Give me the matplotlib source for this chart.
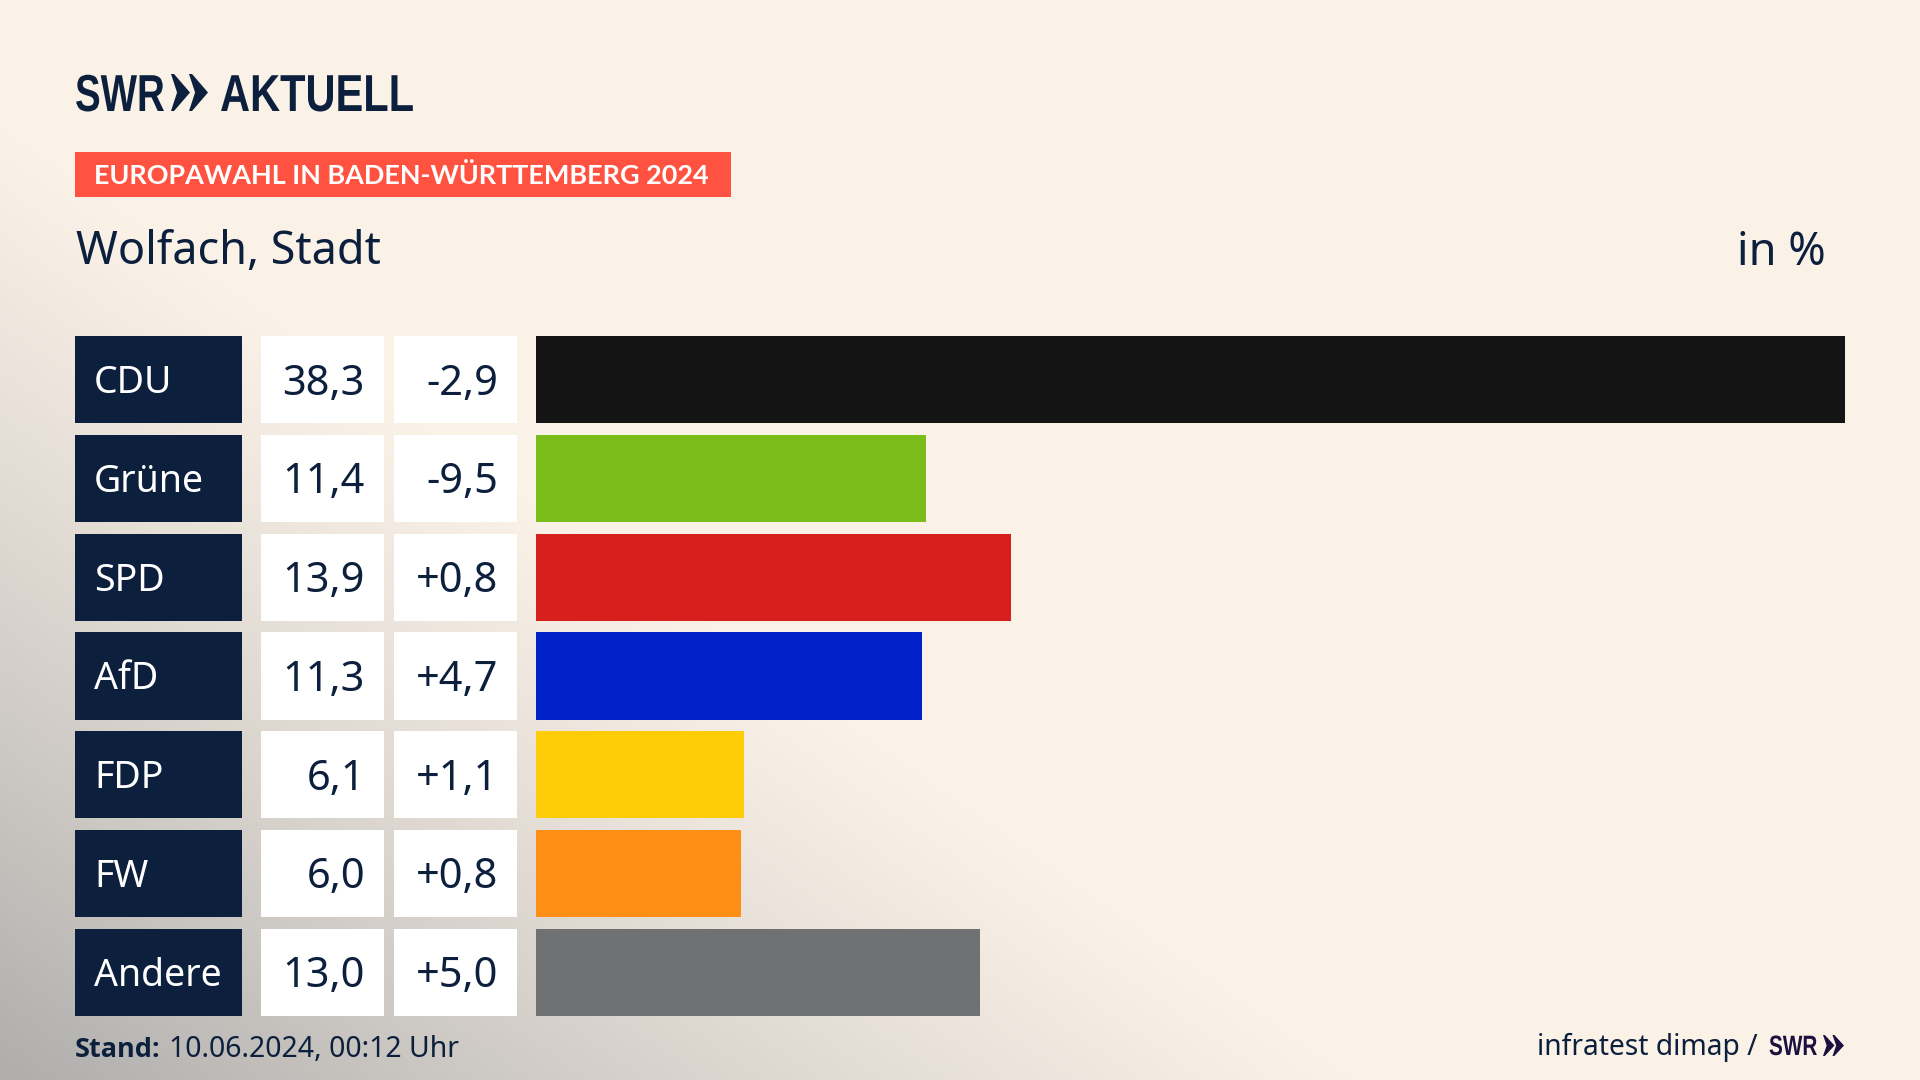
import numpy as np
import matplotlib
matplotlib.use("Agg")
import matplotlib.pyplot as plt
from matplotlib.patches import Polygon, Rectangle
from matplotlib.patheffects import AbstractPathEffect
from matplotlib.transforms import Affine2D

parties = ["CDU", "Grüne", "SPD", "AfD", "FDP", "FW", "Andere"]
shares = [38.3, 11.4, 13.9, 11.3, 6.1, 6.0, 13.0]
changes = [-2.9, -9.5, 0.8, 4.7, 1.1, 0.8, 5.0]
colors = ["#141414", "#7ABD1A", "#D7201E", "#0022C8", "#FFCD08", "#FF8E16", "#707172"]

NAVY = "#0C1F3D"
FONT = ["Noto Sans", "DejaVu Sans"]
BOLD = ["Open Sans", "DejaVu Sans"]
LOGO = ["Liberation Sans", "DejaVu Sans"]
W, H = 1920, 1080


class Squeeze(AbstractPathEffect):
    """Narrow a text horizontally about its left edge (display px)."""
    def __init__(self, x0, sx):
        super().__init__()
        self.x0, self.sx = x0, sx

    def draw_path(self, renderer, gc, tpath, affine, rgbFace=None):
        t = affine + Affine2D().translate(-self.x0, 0).scale(self.sx, 1).translate(self.x0, 0)
        renderer.draw_path(gc, tpath, t, rgbFace)


def px(v):
    return v * 0.72


def de(v, sign=False):
    s = f"{v:+.1f}" if sign else f"{v:.1f}"
    return s.replace(".", ",")


fig = plt.figure(figsize=(19.2, 10.8), dpi=100)

# page background + header/footer in pixel coordinates
bg = fig.add_axes([0, 0, 1, 1])
bg.set_xlim(0, W); bg.set_ylim(H, 0); bg.axis("off")
yy, xx = np.mgrid[0:H, 0:W]
d = xx / 1350.0 + (H - yy) / 950.0
a = np.clip(1 - d, 0, 1) ** 1.15 * 0.58
cream = np.array([250, 241, 231]) / 255
grey = np.array([120, 125, 130]) / 255
img = cream[None, None, :] * (1 - a[..., None]) + grey[None, None, :] * a[..., None]
bg.imshow(img, extent=[0, W, H, 0], aspect="auto", zorder=0, interpolation="bilinear")


def chevrons(ax, x0, y0, y1, w, gap, color):
    m = (y0 + y1) / 2
    for k in range(2):
        x = x0 + k * gap
        ax.add_patch(Polygon([(x, y0), (x + 0.16 * w, y0), (x + w, m), (x + 0.16 * w, y1), (x, y1), (x + 0.32 * w, m)],
                             closed=True, fc=color, ec="none", zorder=3))


def logo_text(x, base, s, size, sx, color):
    bg.text(x, base, s, family=LOGO, weight="bold", fontsize=px(size), color=color, va="baseline", ha="left",
            path_effects=[Squeeze(x, sx)])


logo_text(75, 111, "SWR", 52, 0.74, NAVY)
chevrons(bg, 171, 74, 111, 19, 18, NAVY)
logo_text(220, 111, "AKTUELL", 52, 0.80, NAVY)

bg.add_patch(Rectangle((75, 152), 656, 45, fc="#FF5240", ec="none", zorder=2))
bg.text(94, 184.5, "EUROPAWAHL IN BADEN-WÜRTTEMBERG 2024", family=["Lato", "DejaVu Sans"], weight="bold", fontsize=px(27),
        color="white", va="baseline", ha="left", zorder=3)
bg.text(76, 252, "Wolfach, Stadt", family=FONT, fontsize=px(45), color=NAVY, va="center", ha="left")
bg.text(1826, 253, "in %", family=FONT, fontsize=px(45), color=NAVY, va="center", ha="right")

bg.text(75, 1057, "Stand:", family=BOLD, weight="bold", fontsize=px(27), color=NAVY, va="baseline", ha="left")
bg.text(169, 1057, "10.06.2024, 00:12 Uhr", family=FONT, fontsize=px(28.4), color=NAVY, va="baseline", ha="left")
bg.text(1758, 1055, "infratest dimap /", family=FONT, fontsize=px(28.2), color=NAVY, va="baseline", ha="right")
logo_text(1769, 1055, "SWR", 28, 0.74, "#1C1040")
chevrons(bg, 1823, 1035, 1056, 11.5, 9.5, "#1C1040")

# rows share one y scale
ROW_TOP, ROW_BOTTOM = 336, 1016
half = 0.4427
ylim = (len(parties) - 1 + half, -half)
y = np.arange(len(parties))

tab = fig.add_axes([0, 1 - ROW_BOTTOM / H, 1, (ROW_BOTTOM - ROW_TOP) / H])
tab.set_xlim(0, W); tab.set_ylim(*ylim); tab.axis("off"); tab.patch.set_alpha(0)
tab.barh(y, [167] * 7, left=75, height=2 * half, color=NAVY)
tab.barh(y, [123] * 7, left=261, height=2 * half, color="white")
tab.barh(y, [123] * 7, left=394, height=2 * half, color="white")
nudge = -0.012
for i, (p, s, c) in enumerate(zip(parties, shares, changes)):
    tab.text(94, i + nudge, p, family=FONT, fontsize=px(37.5), color="white", va="center_baseline", ha="left")
    tab.text(365, i + nudge, de(s), family=FONT, fontsize=px(41.5), color=NAVY, va="center_baseline", ha="right")
    tab.text(498, i + nudge, de(c, True), family=FONT, fontsize=px(41.5), color=NAVY, va="center_baseline", ha="right")

# bars
ax = fig.add_axes([536 / W, 1 - ROW_BOTTOM / H, (1845 - 536) / W, (ROW_BOTTOM - ROW_TOP) / H])
ax.set_xlim(0, max(shares)); ax.set_ylim(*ylim); ax.axis("off"); ax.patch.set_alpha(0)
ax.barh(y, shares, height=2 * half, color=colors)

fig.savefig("out.png", dpi=100)
